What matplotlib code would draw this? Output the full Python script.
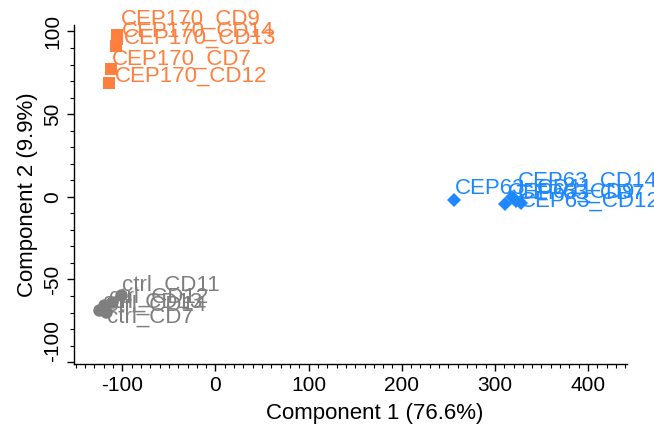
import matplotlib.pyplot as plt
from matplotlib.ticker import MultipleLocator

plt.rcParams['font.family'] = ['Liberation Sans', 'DejaVu Sans']
plt.rcParams['axes.unicode_minus'] = False

# PCA scores
cep170_names = ['CEP170_CD9', 'CEP170_CD14', 'CEP170_CD13', 'CEP170_CD7', 'CEP170_CD12']
cep170_x = [-105.4, -105.4, -106.5, -111.8, -114.0]
cep170_y = [97.6, 95.2, 90.9, 77.0, 69.1]

cep63_names = ['CEP63_CD11', 'CEP63_CD9', 'CEP63_CD14', 'CEP63_CD7', 'CEP63_CD12']
cep63_x = [255.9, 311.0, 318.3, 322.6, 328.0]
cep63_y = [-1.8, -4.2, 0.0, -2.4, -3.6]

ctrl_names = ['ctrl_CD11', 'ctrl_CD12', 'ctrl_CD13', 'ctrl_CD14', 'ctrl_CD7']
ctrl_x = [-101.0, -110.8, -119.4, -124.7, -117.2]
ctrl_y = [-59.4, -63.6, -65.5, -68.5, -69.7]

# label offsets (pixels, right / up) so the labels sit like in the original
cep170_off = [(4, 16), (5, 8), (8, 8), (1, 10), (6, 6)]
cep63_off = [(1, 12), (3, 12), (6, 16), (2, 8), (-1, 2)]
ctrl_off = [(1, 10), (-3, 5), (-1, 3), (8, 5), (1, -5)]

orange = '#FF7F3F'
blue = '#1E88FF'
gray = '#7F7F7F'

fig = plt.figure(figsize=(6.54, 4.28), dpi=100)
ax = fig.add_axes([0.113, 0.150, 0.846, 0.792])

groups = [
    (cep170_x, cep170_y, cep170_names, cep170_off, orange, 's', 8),
    (cep63_x, cep63_y, cep63_names, cep63_off, blue, 'D', 7),
    (ctrl_x, ctrl_y, ctrl_names, ctrl_off, gray, 'o', 9),
]
for xs, ys, names, offs, col, mk, ms in groups:
    ax.plot(xs, ys, linestyle='none', marker=mk, markersize=ms, color=col,
            markeredgewidth=0, clip_on=False)
    for x, y, n, (dx, dy) in zip(xs, ys, names, offs):
        ax.annotate(n, (x, y), xytext=(dx * 0.72, dy * 0.72), textcoords='offset points',
                    ha='left', va='center', color=col, fontsize=16, annotation_clip=False)

ax.set_xlim(-152, 442)
ax.set_ylim(-101, 104)
ax.xaxis.set_major_locator(MultipleLocator(100))
ax.xaxis.set_minor_locator(MultipleLocator(10))
ax.yaxis.set_major_locator(MultipleLocator(50))
ax.yaxis.set_minor_locator(MultipleLocator(10))

for s in ['top', 'right']:
    ax.spines[s].set_visible(False)
for s in ['left', 'bottom']:
    ax.spines[s].set_linewidth(1.0)

ax.tick_params(which='major', length=5, width=1, labelsize=15, direction='out')
ax.tick_params(which='minor', length=3, width=0.8, direction='out')
plt.setp(ax.get_yticklabels(), rotation=90, va='center')

ax.set_xlabel('Component 1 (76.6%)', fontsize=16)
ax.xaxis.set_label_coords(0.544, -0.115)
ax.set_ylabel('Component 2 (9.9%)', fontsize=16, labelpad=4)

fig.canvas.draw()
for lab in ax.get_yticklabels():
    if lab.get_text() == '-100':
        lab.set_va('bottom')

fig.savefig('out.png', dpi=100)
